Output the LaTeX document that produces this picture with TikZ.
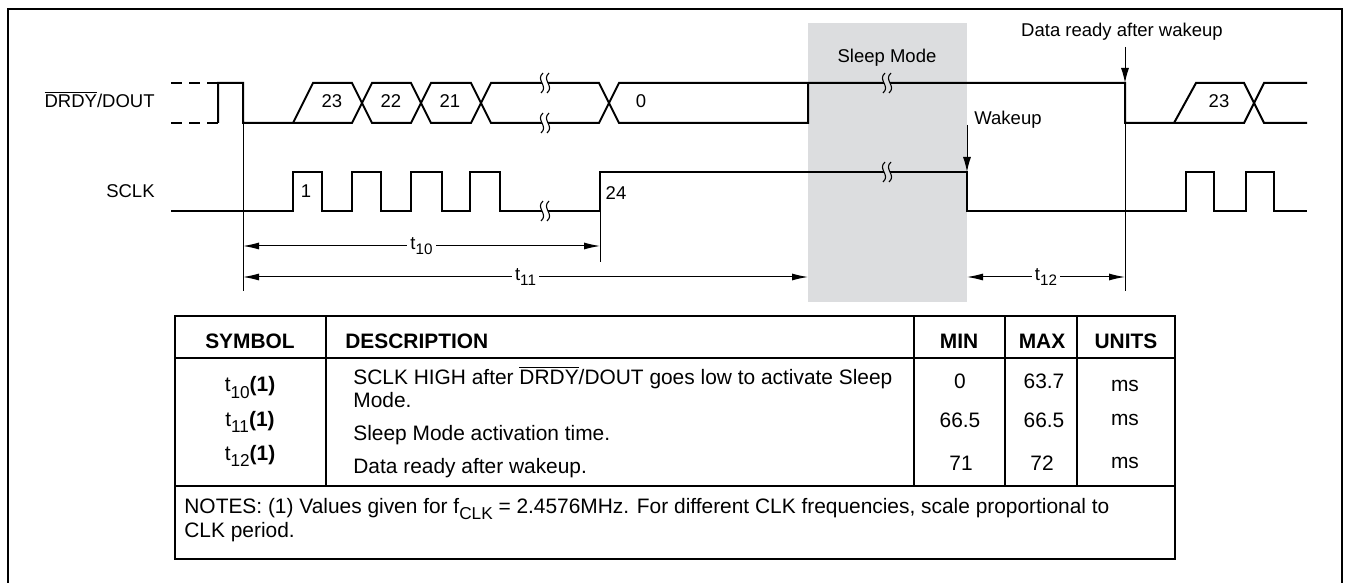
\documentclass[tikz,border=0pt]{standalone}
\usepackage{fontspec}
\setmainfont{Liberation Sans}
\usetikzlibrary{arrows.meta}
\definecolor{sleepgray}{HTML}{DCDDDF}
\newcommand{\ovl}[1]{$\overline{\hbox{#1}}$}
\newcommand{\dsub}[1]{\raisebox{-0.55ex}{\fontsize{7.6}{8}\selectfont #1}}
\newcommand{\tsub}[1]{\raisebox{-0.55ex}{\fontsize{8.6}{9}\selectfont #1}}

\begin{document}
\begin{tikzpicture}[x=0.5pt, y=-0.5pt,
    wave/.style={line width=1pt, line join=miter},
    refline/.style={line width=0.5pt},
    tblline/.style={line width=0.9pt},
    dimline/.style={line width=0.5pt, {Latex[length=8pt,width=3.5pt]}-{Latex[length=8pt,width=3.5pt]}},
    ptr/.style={line width=0.5pt, -{Latex[length=7.5pt,width=4pt]}},
    lbl/.style={font=\fontsize{9.25}{11}\selectfont, inner sep=0pt, anchor=base},
    tlbl/.style={font=\fontsize{9.25}{11}\selectfont, fill=white, inner sep=1.5pt},
    tbl/.style={font=\fontsize{10.45}{12.5}\selectfont, inner sep=0pt, anchor=base},
    hdr/.style={tbl, font=\fontsize{10.45}{12.5}\selectfont\bfseries},
    brk/.pic={
        \fill[pic actions] (-2,-10) .. controls (-10,-3) and (4,3) .. (-4,10) -- (2,10) .. controls (10,3) and (-4,-3) .. (4,-10) -- cycle;
        \draw[line width=0.55pt] (-2,-10) .. controls (-10,-3) and (4,3) .. (-4,10);
        \draw[line width=0.55pt] (4,-10) .. controls (-4,-3) and (10,3) .. (2,10);
    }
]
    \useasboundingbox (0,0) rectangle (1346,583);

    % sleep window and frame
    \fill[sleepgray] (808,23) rectangle (967,302);
    \draw[line width=1pt] (8,583) -- (8,9) -- (1342,9) -- (1342,583);

    % DRDY/DOUT
    \draw[wave, dash pattern=on 5.5pt off 3.5pt] (171,83) -- (218,83) (171,123) -- (218,123);
    \draw[wave] (218,123) -- (218,83) -- (243,83) -- (243,123) -- (293,123) -- (313,83) -- (352,83) -- (372,123) -- (411,123) -- (431,83) -- (471,83) -- (491,123) -- (599,123) -- (619,83) -- (1125,83) -- (1125,123) -- (1174,123) -- (1196,83) -- (1244,83) -- (1264,123) -- (1307,123);
    \draw[wave] (293,123) -- (352,123) -- (372,83) -- (411,83) -- (431,123) -- (471,123) -- (491,83) -- (599,83) -- (619,123) -- (808,123) -- (808,83);
    \draw[wave] (1174,123) -- (1244,123) -- (1264,83) -- (1307,83);

    % SCLK
    \draw[wave] (171,211) -- (293,211) -- (293,172) -- (322,172) -- (322,211) -- (352,211) -- (352,172) -- (381,172) -- (381,211) -- (411,211) -- (411,172) -- (442,172) -- (442,211) -- (470,211) -- (470,172) -- (500,172) -- (500,211) -- (600,211) -- (600,172) -- (967,172) -- (967,211) -- (1186,211) -- (1186,172) -- (1214,172) -- (1214,211) -- (1246,211) -- (1246,172) -- (1274,172) -- (1274,211) -- (1307,211);

    % breaks
    \pic[fill=white] at (545,83) {brk};
    \pic[fill=white] at (545,123) {brk};
    \pic[fill=white] at (545,211) {brk};
    \pic[fill=sleepgray] at (887,83) {brk};
    \pic[fill=sleepgray] at (887,172) {brk};

    % signal names and data labels
    \node[lbl, anchor=base east] (drdylbl) at (155,108) {\ovl{DRDY}/DOUT};
    \node[lbl, anchor=base east] (sclklbl) at (155,198) {SCLK};
    \node[lbl] (bit23) at (332,108) {23};
    \node[lbl] (bit22) at (391,108) {22};
    \node[lbl] (bit21) at (450,108) {21};
    \node[lbl] (bit0) at (641,108) {0};
    \node[lbl] (bit23b) at (1219,108) {23};
    \node[lbl] (clk1) at (306,198) {1};
    \node[lbl] (clk24) at (616,199) {24};
    \node[lbl] (sleeplbl) at (887,63) {Sleep Mode};
    \node[lbl] (readylbl) at (1122,37) {Data ready after wakeup};
    \node[lbl, anchor=base west] (wakelbl) at (974,125) {Wakeup};

    % markers
    \coordinate (readytop) at (1125,47);
    \coordinate (readyedge) at (1125,83);
    \coordinate (waketop) at (967,125);
    \coordinate (wakeedge) at (967,172);
    \draw[ptr] (readytop) -- (readyedge);
    \draw[ptr] (waketop) -- (wakeedge);

    % reference lines
    \draw[refline] (243,123) -- (243,291);
    \draw[refline] (600,211) -- (600,262);
    \draw[refline] (1125,123) -- (1125,291);

    % timing
    \coordinate (t10a) at (243,246);
    \coordinate (t10b) at (600,246);
    \coordinate (t11a) at (243,277);
    \coordinate (t11b) at (808,277);
    \coordinate (t12a) at (967,277);
    \coordinate (t12b) at (1125,277);
    \draw[dimline] (t10a) -- node[tlbl] (t10lbl) {t\dsub{10}} (t10b);
    \draw[dimline] (t11a) -- node[tlbl] (t11lbl) {t\dsub{11}} (t11b);
    \draw[dimline] (t12a) -- node[tlbl] (t12lbl) {t\dsub{12}} (t12b);

    % table
    \draw[tblline] (175,316) rectangle (1175,559);
    \draw[tblline] (175,358) -- (1175,358);
    \draw[tblline] (175,486) -- (1175,486);
    \draw[tblline] (326,316) -- (326,486);
    \draw[tblline] (914,316) -- (914,486);
    \draw[tblline] (1005,316) -- (1005,486);
    \draw[tblline] (1077,316) -- (1077,486);

    \node[hdr] (hsym) at (250,349) {SYMBOL};
    \node[hdr, anchor=base west] (hdesc) at (345,349) {DESCRIPTION};
    \node[hdr] (hmin) at (959,349) {MIN};
    \node[hdr] (hmax) at (1042,349) {MAX};
    \node[hdr] (hunit) at (1126,349) {UNITS};

    \node[tbl] (sym10) at (250,392) {t\tsub{10}\textbf{(1)}};
    \node[tbl] (sym11) at (250,426) {t\tsub{11}\textbf{(1)}};
    \node[tbl] (sym12) at (250,460) {t\tsub{12}\textbf{(1)}};

    \node[tbl, anchor=base west] (desc10) at (353,385) {SCLK HIGH after \ovl{DRDY}/DOUT goes low to activate Sleep};
    \node[tbl, anchor=base west] (desc10b) at (353,408) {Mode.};
    \node[tbl, anchor=base west] (desc11) at (353,440) {Sleep Mode activation time.};
    \node[tbl, anchor=base west] (desc12) at (353,473) {Data ready after wakeup.};

    \node[tbl] (min10) at (960,388) {0};
    \node[tbl] (min11) at (960,427) {66.5};
    \node[tbl] (min12) at (961,470) {71};
    \node[tbl] (max10) at (1044,388) {63.7};
    \node[tbl] (max11) at (1044,427) {66.5};
    \node[tbl] (max12) at (1042,470) {72};
    \node[tbl] (unit10) at (1125,391) {ms};
    \node[tbl] (unit11) at (1125,425) {ms};
    \node[tbl] (unit12) at (1125,468) {ms};

    \node[tbl, anchor=base west] (notes) at (184,513) {NOTES: (1) Values given for f\tsub{CLK} = 2.4576MHz. For different CLK frequencies, scale proportional to};
    \node[tbl, anchor=base west] (notesb) at (184,537) {CLK period.};
\end{tikzpicture}
\end{document}
